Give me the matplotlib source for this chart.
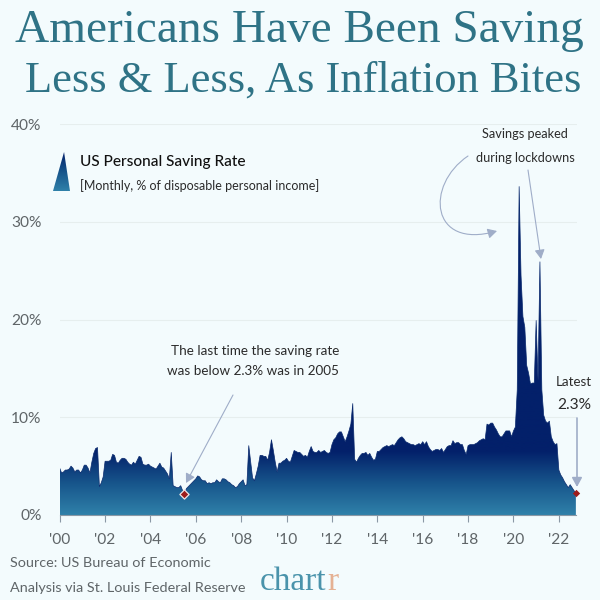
# US personal saving rate chart, chartr style
import numpy as np
import matplotlib
matplotlib.use("Agg")
import matplotlib.pyplot as plt
from matplotlib.colors import LinearSegmentedColormap
from matplotlib.patches import Polygon, FancyArrowPatch
from matplotlib.path import Path

# monthly values, Jan 2000 to Oct 2022
y2000 = [4.8, 4.3, 4.4, 4.6, 4.6, 4.7, 5.0, 4.8, 4.4, 4.6, 4.6, 4.3]
y2001 = [4.6, 5.1, 5.1, 4.8, 4.3, 5.4, 6.3, 6.8, 6.9, 2.9, 3.3, 3.9]
y2002 = [5.5, 5.5, 5.5, 5.6, 6.2, 6.1, 5.4, 5.3, 5.6, 5.8, 5.8, 5.7]
y2003 = [5.4, 5.2, 5.1, 5.4, 5.2, 5.6, 6.0, 5.9, 5.2, 5.1, 5.1, 5.2]
y2004 = [5.0, 4.9, 4.8, 4.7, 5.0, 5.3, 4.9, 4.8, 4.5, 4.2, 3.7, 6.4]
y2005 = [3.0, 2.9, 2.8, 2.8, 3.0, 2.5, 2.1, 2.7, 2.9, 3.1, 3.3, 3.5]
y2006 = [3.7, 4.0, 3.9, 3.6, 3.5, 3.5, 3.2, 3.3, 3.2, 3.3, 3.3, 3.6]
y2007 = [3.4, 3.3, 3.7, 3.7, 3.6, 3.4, 3.3, 3.1, 3.0, 2.8, 2.9, 3.2]
y2008 = [3.4, 3.6, 3.0, 3.1, 7.1, 5.4, 3.8, 3.5, 4.2, 5.0, 6.1, 6.1]
y2009 = [6.0, 6.0, 5.6, 6.4, 7.7, 6.6, 5.4, 4.4, 5.3, 5.3, 5.5, 5.6]
y2010 = [5.8, 5.5, 5.4, 6.0, 6.6, 6.5, 6.4, 6.4, 6.2, 6.0, 6.1, 5.9]
y2011 = [6.5, 7.0, 6.5, 6.4, 6.4, 6.6, 6.4, 6.5, 6.6, 6.4, 6.3, 6.4]
y2012 = [7.2, 7.7, 7.9, 8.3, 8.5, 8.5, 8.0, 7.5, 8.0, 8.6, 9.3, 11.4]
y2013 = [5.7, 5.4, 5.8, 6.1, 6.3, 6.3, 6.4, 6.1, 6.3, 5.9, 5.6, 5.7]
y2014 = [6.5, 6.5, 6.7, 6.9, 7.0, 7.1, 7.0, 7.1, 7.2, 7.1, 7.4, 7.7]
y2015 = [7.9, 8.0, 7.8, 7.5, 7.4, 7.3, 7.2, 7.2, 7.1, 7.2, 7.3, 7.2]
y2016 = [7.5, 7.2, 7.5, 7.0, 6.7, 6.5, 6.6, 6.7, 6.7, 6.6, 6.8, 6.4]
y2017 = [6.7, 7.0, 7.1, 7.1, 7.6, 7.3, 7.4, 7.4, 7.2, 7.2, 6.6, 6.2]
y2018 = [7.1, 7.2, 7.2, 7.2, 7.3, 7.4, 7.6, 7.7, 7.8, 7.7, 9.3, 9.2]
y2019 = [9.4, 9.4, 9.0, 8.7, 8.3, 8.0, 8.0, 8.3, 8.6, 8.6, 8.6, 8.0]
y2020 = [8.6, 9.0, 12.8, 33.6, 24.5, 20.3, 19.2, 15.3, 14.5, 13.4, 13.5, 13.5]
y2021 = [19.9, 13.8, 25.9, 12.8, 10.2, 9.6, 9.4, 9.6, 8.0, 7.5, 7.2, 7.3]
y2022 = [4.6, 4.1, 3.8, 3.4, 3.1, 2.8, 3.1, 2.8, 2.5, 2.2]

saving_rate = np.array(y2000 + y2001 + y2002 + y2003 + y2004 + y2005 + y2006 + y2007
                       + y2008 + y2009 + y2010 + y2011 + y2012 + y2013 + y2014 + y2015
                       + y2016 + y2017 + y2018 + y2019 + y2020 + y2021 + y2022)
years = 2000 + np.arange(len(saving_rate)) / 12

x_ticks = list(range(2000, 2023, 2))
x_labels = ["'00", "'02", "'04", "'06", "'08", "'10", "'12", "'14", "'16", "'18", "'20", "'22"]
y_ticks = [0, 10, 20, 30, 40]
y_labels = ["0%", "10%", "20%", "30%", "40%"]
low_year = 2005.5
low_rate = 2.1

BG = "#f3fbfd"
TITLE = "#2f7386"
TEXT = "#2b2b2b"
GREY = "#5f6568"
ARROW = "#9fadc8"
SANS = "Lato"
SLAB = "Liberation Serif"

grad_pos = LinearSegmentedColormap.from_list("sav", [(0, "#2f80a9"), (0.5, "#17558b"), (1, "#03206a")], N=256)


def fx(px):
    return px / 600


def fy(py):
    return 1 - py / 600


fig = plt.figure(figsize=(6, 6), dpi=100, facecolor=BG)
ax = fig.add_axes([fx(59.7), fy(515), fx(577) - fx(59.7), fy(124) - fy(515)], facecolor=BG)

# gradient under the curve, solid navy above about 6.5%
col = np.clip(np.linspace(40, 0, 400) / 6.5, 0, 1).reshape(-1, 1)
im = ax.imshow(col, extent=[2000, 2022.8, 0, 40], aspect="auto", cmap=grad_pos, vmin=0, vmax=1, zorder=2)
poly = ax.fill_between(years, 0, saving_rate, color="none", lw=0)
im.set_clip_path(poly.get_paths()[0], transform=ax.transData)
ax.plot(years, saving_rate, color="#0a2a6e", lw=0.5, zorder=3)

ax.set_xlim(2000, 2022.8)
ax.set_ylim(0, 40)
ax.set_xticks(x_ticks)
ax.set_xticklabels(x_labels, fontsize=11.2, color=GREY, family=SANS)
ax.set_yticks(y_ticks)
ax.set_yticklabels(y_labels, fontsize=11.2, color=GREY, family=SANS)
ax.tick_params(axis="x", length=5, width=0.8, color="#8a98a5", pad=8)
ax.tick_params(axis="y", length=0, pad=13)
ax.grid(axis="y", color="#e6eeee", lw=0.8, zorder=1)
ax.set_axisbelow(True)
for s in ["top", "left", "right"]:
    ax.spines[s].set_visible(False)
ax.spines["bottom"].set_color("#8a98a5")
ax.spines["bottom"].set_linewidth(0.8)
ax.spines["bottom"].set_bounds(2000, years[-1])

# markers
ax.scatter([low_year], [low_rate], marker="D", s=22, color="#9c1c1c", edgecolor="#f0e6e6", lw=0.9, zorder=5, clip_on=False)
ax.scatter([years[-1]], [saving_rate[-1]], marker="D", s=14, color="#9c1c1c", lw=0, zorder=5, clip_on=False)

# title
fig.text(fx(299), fy(42), "Americans Have Been Saving", ha="center", va="baseline", fontsize=34, color=TITLE, family=SLAB)
fig.text(fx(303), fy(92), "Less & Less, As Inflation Bites", ha="center", va="baseline", fontsize=32, color=TITLE, family=SLAB)

# legend triangle and text
lax = fig.add_axes([fx(53), fy(191), fx(70) - fx(53), fy(152) - fy(191)])
lax.axis("off")
lim = lax.imshow(np.linspace(1, 0, 100).reshape(-1, 1), extent=[0, 1, 0, 1], aspect="auto", cmap=grad_pos, vmin=0, vmax=1)
tri = Polygon([[0, 0], [1, 0], [0.65, 1]], transform=lax.transAxes, facecolor="none", edgecolor="none")
lax.add_patch(tri)
lim.set_clip_path(tri)
fig.text(fx(80), fy(162), "US Personal Saving Rate", ha="left", va="center", fontsize=11.1, color="#111111", family=SANS, weight="medium")
fig.text(fx(80), fy(186), "[Monthly, % of disposable personal income]", ha="left", va="center", fontsize=9, color=TEXT, family=SANS)

# annotations
for px, py, s, size in [(255, 351, "The last time the saving rate", 9.7),
                        (253, 371, "was below 2.3% was in 2005", 9.7),
                        (525, 134, "Savings peaked", 9.2),
                        (525, 158, "during lockdowns", 9.2),
                        (574, 382, "Latest", 9.6),
                        (574, 405, "2.3%", 11.2)]:
    fig.text(fx(px), fy(py), s, ha="center", va="center", fontsize=size, color=TEXT, family=SANS)


def arrow(start, end, lw=0.8):
    p = FancyArrowPatch((fx(start[0]), fy(start[1])), (fx(end[0]), fy(end[1])), transform=fig.transFigure,
                        arrowstyle="-|>,head_length=0.55,head_width=0.3", mutation_scale=10,
                        color=ARROW, lw=lw, shrinkA=0, shrinkB=0, zorder=6)
    fig.add_artist(p)


arrow((233, 395), (186, 483))
arrow((528, 170), (541, 259))
arrow((577, 418), (577, 487), lw=1.2)

# curved arrow from the lockdown note to the first peak
curve = Path([(fx(468), fy(156)), (fx(425), fy(185)), (fx(430), fy(250)), (fx(497), fy(231))],
             [Path.MOVETO, Path.CURVE4, Path.CURVE4, Path.CURVE4])
fig.add_artist(FancyArrowPatch(path=curve, transform=fig.transFigure,
                               arrowstyle="-|>,head_length=0.55,head_width=0.3", mutation_scale=10,
                               color=ARROW, lw=0.8, zorder=6))

# source and logo
fig.text(fx(10), fy(563), "Source: US Bureau of Economic", ha="left", va="center", fontsize=10.4, color=GREY, family=SANS)
fig.text(fx(10), fy(588), "Analysis via St. Louis Federal Reserve", ha="left", va="center", fontsize=10.4, color=GREY, family=SANS)
logo = fig.text(fx(260), fy(590), "chart", ha="left", va="baseline", fontsize=24, color="#4a93ab", family=SLAB)
box = logo.get_window_extent(fig.canvas.get_renderer())
fig.text((box.x1 + 1) / 600, fy(590), "r", ha="left", va="baseline", fontsize=24, color="#e5b193", family=SLAB)

fig.savefig("out.png", dpi=100, facecolor=BG)
